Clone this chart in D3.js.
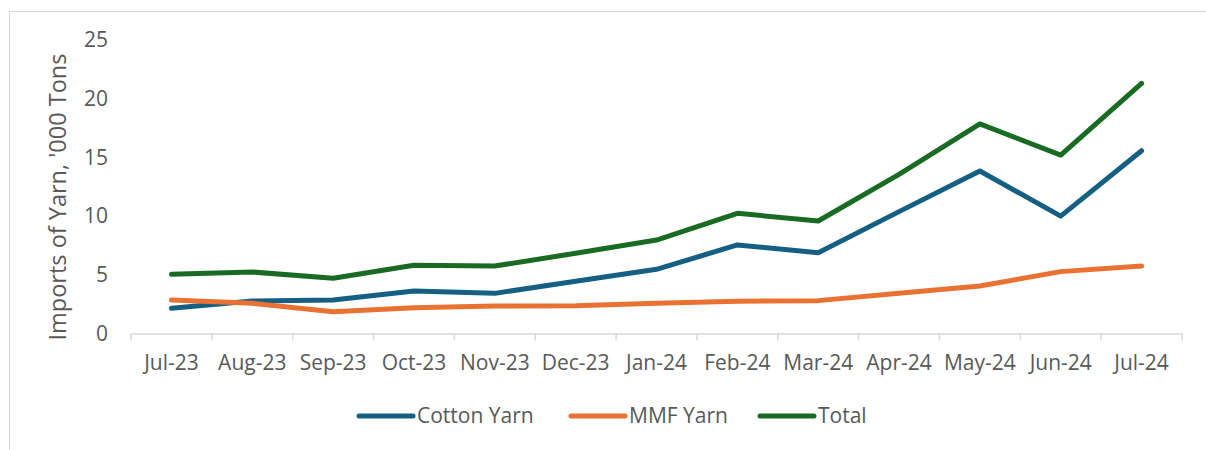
<!DOCTYPE html>
<html><head><meta charset="utf-8">
<script src="https://cdn.jsdelivr.net/npm/d3@7"></script>
<style>body{margin:0;background:#fff;}svg{display:block;}</style>
</head><body>
<svg id="chart" width="1206" height="450"></svg>
<script>
const categories = ["Jul-23","Aug-23","Sep-23","Oct-23","Nov-23","Dec-23","Jan-24","Feb-24","Mar-24","Apr-24","May-24","Jun-24","Jul-24"];
const cottonYarn = [2.15,2.77,2.85,3.62,3.42,4.45,5.47,7.54,6.88,10.38,13.84,10.0,15.57];
const mmfYarn    = [2.85,2.57,1.86,2.2,2.34,2.37,2.57,2.74,2.8,3.42,4.05,5.27,5.75];
const total      = [5.04,5.24,4.7,5.81,5.75,6.83,7.96,10.24,9.58,13.56,17.85,15.2,21.3];
const yTicks = [0,5,10,15,20,25];
const seriesNames = ["Cotton Yarn","MMF Yarn","Total"];
const seriesColors = ["#156082","#E97132","#196B24"];
const yTitle = "Imports of Yarn, '000 Tons";

const series = [cottonYarn, mmfYarn, total].map((v,i)=>({name:seriesNames[i],color:seriesColors[i],values:v}));
const svg = d3.select("#chart");
const font = "Open Sans, sans-serif";
const textColor = "#595959";

// outer border
svg.append("rect").attr("x",9.5).attr("y",11.5).attr("width",1300).attr("height",500)
  .attr("fill","none").attr("stroke","#d9d9d9").attr("stroke-width",1);

const x = d3.scaleBand().domain(categories).range([131,1182]);
const y = d3.scaleLinear().domain([0,25]).range([333.5,40]);

// x axis
const xAxis = svg.append("g").attr("transform","translate(0,333.5)")
  .call(d3.axisBottom(x).tickSize(0).tickSizeOuter(0));
xAxis.select(".domain").attr("stroke","#d9d9d9").attr("stroke-width",1.5);
xAxis.selectAll("text").attr("y",29.5).attr("dy","0.35em")
  .attr("font-family",font).attr("font-size",21).attr("fill",textColor);
// tick marks at band edges
const edges = categories.map(c=>x(c)).concat([x.range()[1]]);
xAxis.selectAll(".edge").data(edges).enter().append("line")
  .attr("x1",d=>d).attr("x2",d=>d).attr("y1",0).attr("y2",7)
  .attr("stroke","#d9d9d9").attr("stroke-width",1.5);

// y axis labels
const yAxis = svg.append("g").attr("transform","translate(108,0)")
  .call(d3.axisLeft(y).tickValues(yTicks).tickSize(0).tickPadding(0));
yAxis.select(".domain").remove();
yAxis.selectAll("text").attr("font-family",font).attr("font-size",21).attr("fill",textColor);

// y title
svg.append("text").attr("transform","translate(66,197) rotate(-90)")
  .attr("text-anchor","middle").attr("font-family",font).attr("font-size",23.5)
  .attr("fill",textColor).text(yTitle);

// lines
const line = d3.line().x((d,i)=>x(categories[i])+x.bandwidth()/2).y(d=>y(d));
svg.selectAll(".series").data(series).enter().append("path")
  .attr("d",d=>line(d.values)).attr("fill","none")
  .attr("stroke",d=>d.color).attr("stroke-width",5)
  .attr("stroke-linecap","round").attr("stroke-linejoin","round");

// legend
const legendX = [359,571,760];
const lg = svg.selectAll(".lg").data(series).enter().append("g")
  .attr("transform",(d,i)=>`translate(${legendX[i]},416)`);
lg.append("line").attr("x1",0).attr("x2",54).attr("y1",0).attr("y2",0)
  .attr("stroke",d=>d.color).attr("stroke-width",5).attr("stroke-linecap","round");
lg.append("text").attr("x",58).attr("y",0).attr("dy","0.35em")
  .attr("font-family",font).attr("font-size",21).attr("fill",textColor).text(d=>d.name);
</script>
</body></html>
